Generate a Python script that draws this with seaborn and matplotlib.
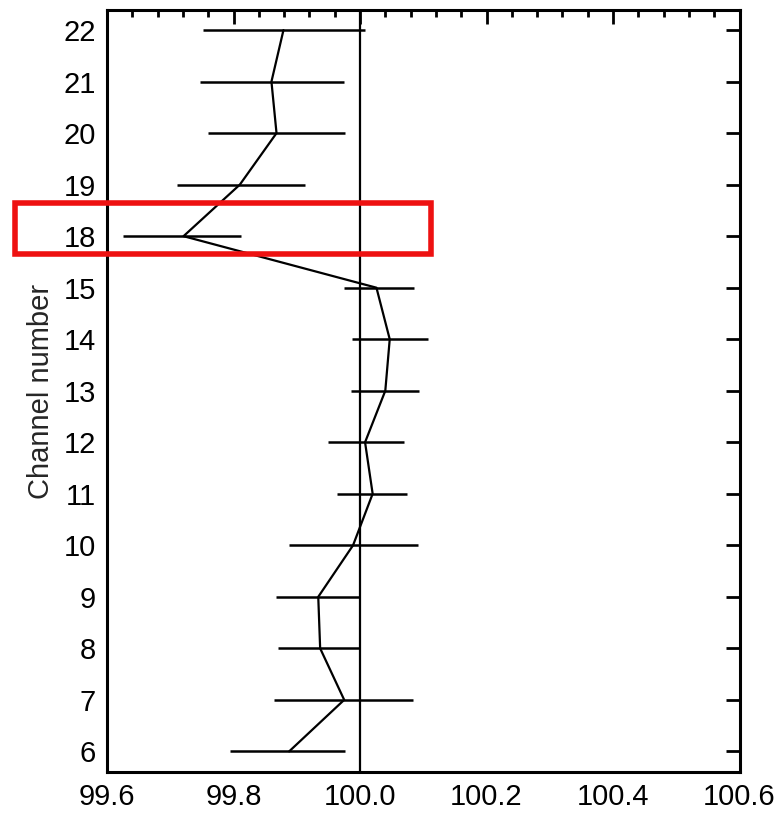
import matplotlib
matplotlib.use("Agg")
import matplotlib.pyplot as plt
import matplotlib.patches as mpatches
from matplotlib.ticker import MultipleLocator
import seaborn as sns
import pandas as pd
import numpy as np

channels = ["6", "7", "8", "9", "10", "11", "12", "13", "14", "15", "18", "19", "20", "21", "22"]
center = [99.888, 99.975, 99.937, 99.934, 99.989, 100.020, 100.008, 100.040, 100.047, 100.026,
          99.721, 99.810, 99.868, 99.860, 99.879]
lower = [99.794, 99.864, 99.871, 99.867, 99.887, 99.963, 99.949, 99.986, 99.987, 99.974,
         99.625, 99.711, 99.759, 99.747, 99.752]
upper = [99.977, 100.084, 100.0, 100.0, 100.092, 100.075, 100.070, 100.094, 100.107, 100.085,
         99.812, 99.913, 99.977, 99.975, 100.008]
x_ticks = [99.6, 99.8, 100.0, 100.2, 100.4, 100.6]

sns.set_theme(style="white")
plt.rcParams["font.family"] = ["Liberation Sans", "DejaVu Sans"]

df = pd.DataFrame({"channel": channels, "pos": np.arange(len(channels)), "value": center,
                   "lo": lower, "hi": upper})

fig = plt.figure(figsize=(7.82, 8.21), dpi=100)
ax = fig.add_axes([107 / 782, 49 / 821, 632.5 / 782, 762 / 821])

ax.axvline(100.0, color="black", lw=1.6, zorder=1)
ax.hlines(df["pos"], df["lo"], df["hi"], color="black", lw=1.8, zorder=2)
sns.lineplot(data=df, x="value", y="pos", orient="y", sort=False, color="black", lw=1.6,
             ax=ax, zorder=3)

ax.set_xlim(99.6, 100.6)
ax.set_ylim(-0.4, len(channels) - 1 + 0.39)
ax.set_xticks(x_ticks)
ax.set_xticklabels([f"{v:.1f}" for v in x_ticks])
ax.xaxis.set_minor_locator(MultipleLocator(0.04))
ax.set_yticks(df["pos"])
ax.set_yticklabels(channels)
ax.set_xlabel("")
ax.set_ylabel("Channel number", fontsize=21, labelpad=6)

ax.tick_params(axis="both", which="both", direction="in", top=True, right=True,
               colors="black", labelsize=21)
ax.tick_params(axis="x", which="major", length=10, width=2, pad=8)
ax.tick_params(axis="x", which="minor", length=5, width=2)
ax.tick_params(axis="y", which="major", length=10, width=2, pad=8)
for s in ax.spines.values():
    s.set_color("black")
    s.set_linewidth(2.2)

rect = mpatches.Rectangle((15 / 782, 1 - 254 / 821), (431 - 15) / 782, (254 - 203) / 821,
                          transform=fig.transFigure, fill=False, edgecolor="#ee1111",
                          lw=4, clip_on=False, zorder=10)
fig.patches.append(rect)

fig.savefig("out.png", dpi=100)
